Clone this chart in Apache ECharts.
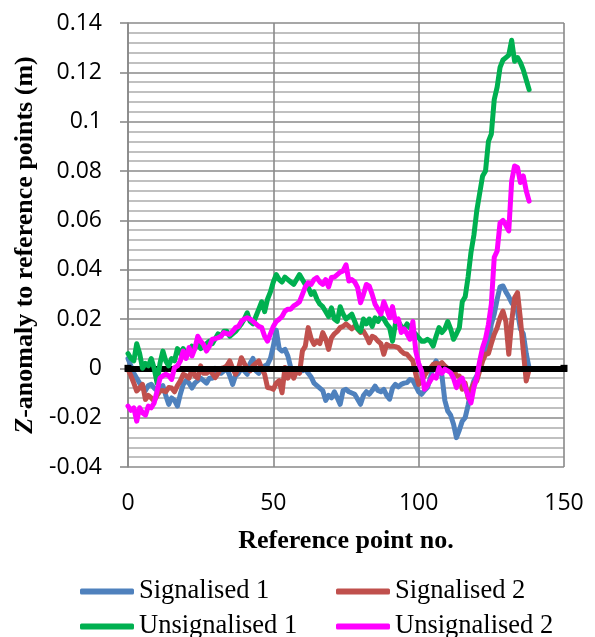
<!DOCTYPE html>
<html>
<head>
<meta charset="utf-8">
<script src="https://cdn.jsdelivr.net/npm/echarts@6/dist/echarts.min.js"></script>
<style>
  html, body { margin: 0; padding: 0; background: #ffffff; }
  #chart { width: 595px; height: 637px; }
</style>
</head>
<body>
<div id="chart"></div>
<script>
// Z-anomaly (m) of each reference point, four survey configurations
const signalised1 = [
  0.004, 0.001, -0.002, -0.004, -0.006, -0.008, -0.009, -0.007, -0.0065, -0.008,
  -0.009, -0.008, -0.007, -0.011, -0.0146, -0.012, -0.013, -0.0153, -0.0105, -0.0065,
  -0.005, -0.006, -0.008, -0.006, -0.005, -0.004, -0.005, -0.006, -0.004, -0.004,
  0.000, -0.001, -0.002, -0.001, 0.000, -0.003, -0.0065, -0.003, -0.002, 0.000,
  -0.001, -0.0024, 0.002, 0.004, -0.001, -0.002, 0.000, 0.001, 0.0016, 0.004,
  0.009, 0.0155, 0.008, 0.007, 0.0077, 0.005, 0.0003, -0.0005, -0.001, -0.0005,
  -0.001, -0.0003, -0.002, -0.0035, -0.006, -0.007, -0.008, -0.009, -0.013, -0.011,
  -0.012, -0.0095, -0.012, -0.0146, -0.009, -0.0085, -0.0095, -0.010, -0.0105, -0.0125,
  -0.0146, -0.011, -0.0095, -0.0105, -0.009, -0.0072, -0.009, -0.0095, -0.0085, -0.011,
  -0.0125, -0.008, -0.0065, -0.0075, -0.0065, -0.006, -0.0058, -0.0045, -0.005, -0.0072,
  -0.0095, -0.0105, -0.009, -0.0078, -0.004, 0.001, 0.003, 0.000, -0.003, -0.013,
  -0.0173, -0.019, -0.0227, -0.0281, -0.025, -0.0214, -0.020, -0.015, -0.009, -0.005,
  -0.003, 0.000, 0.004, 0.007, 0.010, 0.018, 0.022, 0.028, 0.033, 0.0334,
  0.031, 0.029, 0.0266, 0.025, 0.023, 0.016, 0.014, 0.006, 0.000
];
const signalised2 = [
  -0.0004, -0.003, -0.006, -0.0092, -0.008, -0.0065, -0.0126, -0.011, -0.012, -0.0132,
  -0.011, -0.0092, -0.009, -0.0095, -0.0078, -0.008, -0.0095, -0.007, -0.0051, -0.0024,
  -0.003, -0.004, -0.0004, -0.003, -0.004, 0.001, -0.002, -0.002, -0.001, -0.002,
  -0.0038, -0.002, 0.000, 0.0003, 0.001, 0.003, 0.000, -0.0024, 0.000, 0.0043,
  0.002, 0.000, -0.001, 0.001, 0.002, 0.003, 0.000, -0.0024, -0.0078, -0.008,
  -0.0085, -0.006, -0.005, -0.0099, 0.0003, -0.004, -0.0004, -0.004, -0.0011, -0.002,
  0.007, 0.009, 0.0165, 0.012, 0.0097, 0.011, 0.010, 0.0145, 0.012, 0.0077,
  0.0124, 0.014, 0.015, 0.0165, 0.017, 0.018, 0.017, 0.016, 0.0172, 0.016,
  0.0145, 0.015, 0.013, 0.0104, 0.013, 0.0124, 0.011, 0.010, 0.0057, 0.0097,
  0.009, 0.009, 0.0088, 0.0084, 0.007, 0.006, 0.0057, 0.0043, 0.003, -0.0024,
  -0.0065, -0.005, -0.003, -0.0011, 0.000, 0.0016, 0.002, 0.0015, 0.0023, 0.001,
  0.000, -0.001, -0.0004, -0.003, -0.0031, -0.0085, -0.006, -0.0119, -0.009, -0.006,
  -0.0051, -0.001, 0.003, 0.0057, 0.006, 0.010, 0.0138, 0.0165, 0.0205, 0.0232,
  0.019, 0.0057, 0.019, 0.0286, 0.0307, 0.020, 0.007, -0.0051, -0.0004
];
const unsignalised1 = [
  0.006, 0.004, 0.003, 0.010, 0.006, 0.000, 0.002, 0.001, 0.004, 0.000,
  -0.006, 0.002, 0.007, 0.003, 0.001, 0.004, 0.003, 0.008, 0.006, 0.008,
  0.005, 0.007, 0.009, 0.008, 0.010, 0.008, 0.009, 0.010, 0.011, 0.010,
  0.012, 0.014, 0.013, 0.015, 0.015, 0.013, 0.014, 0.015, 0.0165, 0.018,
  0.020, 0.0225, 0.019, 0.018, 0.021, 0.024, 0.027, 0.023, 0.028, 0.031,
  0.035, 0.038, 0.036, 0.035, 0.037, 0.036, 0.035, 0.034, 0.036, 0.038,
  0.036, 0.034, 0.033, 0.030, 0.031, 0.028, 0.026, 0.025, 0.023, 0.021,
  0.0245, 0.020, 0.019, 0.025, 0.022, 0.020, 0.021, 0.022, 0.019, 0.016,
  0.015, 0.020, 0.018, 0.020, 0.017, 0.0205, 0.019, 0.021, 0.020, 0.018,
  0.0165, 0.011, 0.018, 0.019, 0.017, 0.016, 0.018, 0.0165, 0.015, 0.0138,
  0.0124, 0.011, 0.011, 0.0118, 0.011, 0.009, 0.013, 0.0165, 0.0145, 0.016,
  0.019, 0.016, 0.0118, 0.014, 0.0165, 0.027, 0.029, 0.037, 0.047, 0.054,
  0.064, 0.071, 0.078, 0.080, 0.092, 0.095, 0.109, 0.114, 0.122, 0.125,
  0.126, 0.127, 0.133, 0.1245, 0.126, 0.124, 0.121, 0.117, 0.113
];
const unsignalised2 = [
  -0.0153, -0.017, -0.016, -0.0214, -0.016, -0.018, -0.019, -0.0153, -0.016, -0.014,
  -0.0092, -0.004, -0.003, -0.0024, -0.003, -0.0045, 0.0003, 0.001, 0.003, 0.007,
  0.004, 0.0084, 0.005, 0.008, 0.013, 0.011, 0.0097, 0.007, 0.009, 0.0118,
  0.012, 0.0124, 0.013, 0.0145, 0.014, 0.0138, 0.015, 0.0165, 0.017, 0.019,
  0.020, 0.0205, 0.020, 0.019, 0.018, 0.017, 0.0165, 0.013, 0.011, 0.014,
  0.017, 0.019, 0.0199, 0.021, 0.0232, 0.024, 0.024, 0.0253, 0.026, 0.027,
  0.030, 0.033, 0.0347, 0.034, 0.036, 0.0368, 0.035, 0.034, 0.036, 0.033,
  0.0368, 0.037, 0.038, 0.039, 0.0395, 0.042, 0.0354, 0.036, 0.035, 0.0327,
  0.0266, 0.030, 0.034, 0.0333, 0.030, 0.026, 0.024, 0.022, 0.027, 0.024,
  0.0205, 0.025, 0.019, 0.020, 0.0145, 0.016, 0.014, 0.0118, 0.019, 0.007,
  0.002, -0.001, -0.0085, -0.007, -0.005, -0.003, -0.004, 0.0003, -0.002, -0.0003,
  -0.001, -0.0018, -0.004, -0.0078, -0.005, -0.004, -0.0078, -0.011, -0.014, -0.0078,
  -0.0038, 0.003, 0.0084, 0.012, 0.0178, 0.026, 0.045, 0.0476, 0.059, 0.060,
  0.058, 0.0557, 0.076, 0.082, 0.0814, 0.0753, 0.078, 0.072, 0.0678
];

const seriesNames = ['Signalised 1', 'Signalised 2', 'Unsignalised 1', 'Unsignalised 2'];
const seriesColors = ['#4F81BD', '#C0504D', '#00B050', '#FF00FF'];
const seriesValues = [signalised1, signalised2, unsignalised1, unsignalised2];

// axis tick values
const xTicks = [0, 50, 100, 150];
const yTicks = [-0.04, -0.02, 0, 0.02, 0.04, 0.06, 0.08, 0.1, 0.12, 0.14];

const numFont = '"Open Sans", sans-serif';
const serifFont = '"Liberation Serif", "Times New Roman", serif';
const majorGrid = '#8a8a8a';
const minorGrid = '#c0c0c0';

// each value belongs to reference point number = its index
const toPoints = vals => vals.map((v, i) => [i, v]);

const lineSeries = seriesNames.map((name, k) => ({
  name: name,
  type: 'line',
  data: toPoints(seriesValues[k]),
  showSymbol: false,
  symbol: 'none',
  smooth: false,
  z: 3 + k,
  color: seriesColors[k],
  lineStyle: { color: seriesColors[k], width: 5, cap: 'round', join: 'round' },
  emphasis: { disabled: true },
  animation: false
}));

// heavy zero line drawn beneath the data lines
const zeroLine = {
  name: 'zero',
  type: 'line',
  data: [],
  z: 2,
  silent: true,
  animation: false,
  markLine: {
    silent: true,
    animation: false,
    symbol: ['rect', 'rect'],
    symbolSize: [7, 7],
    label: { show: false },
    lineStyle: { color: '#000000', width: 6, type: 'solid', cap: 'square' },
    data: [{ yAxis: 0 }]
  }
};

const chart = echarts.init(document.getElementById('chart'), null, { renderer: 'canvas' });
chart.setOption({
  backgroundColor: '#ffffff',
  animation: false,
  grid: { left: 128, right: 31, top: 23, bottom: 170, containLabel: false },
  xAxis: {
    type: 'value',
    min: xTicks[0],
    max: xTicks[xTicks.length - 1],
    interval: xTicks[1] - xTicks[0],
    axisLine: { show: false },
    axisTick: { show: false },
    axisLabel: { color: '#000000', fontFamily: numFont, fontSize: 23, margin: 25 },
    splitLine: { show: true, lineStyle: { color: majorGrid, width: 1.6 } },
    name: 'Reference point no.',
    nameLocation: 'middle',
    nameGap: 61,
    nameTextStyle: { color: '#000000', fontFamily: serifFont, fontSize: 26, fontWeight: 'bold' }
  },
  yAxis: {
    type: 'value',
    min: yTicks[0],
    max: yTicks[yTicks.length - 1],
    interval: yTicks[1] - yTicks[0],
    axisLine: { show: true, lineStyle: { color: majorGrid, width: 1.6 } },
    axisTick: { show: true, length: 8, lineStyle: { color: majorGrid, width: 1.6 } },
    axisLabel: {
      color: '#000000', fontFamily: numFont, fontSize: 23, margin: 26,
      formatter: v => String(parseFloat(v.toFixed(2)))
    },
    splitLine: { show: true, lineStyle: { color: majorGrid, width: 1.6 } },
    minorTick: { show: false, splitNumber: 5 },
    minorSplitLine: { show: true, lineStyle: { color: minorGrid, width: 2 } },
    name: '{it|Z}-anomaly to reference points (m)',
    nameLocation: 'middle',
    nameGap: 85,
    nameRotate: 90,
    nameTextStyle: {
      color: '#000000', fontFamily: serifFont, fontSize: 26, fontWeight: 'bold',
      rich: {
        it: { fontFamily: serifFont, fontSize: 26, fontWeight: 'bold', fontStyle: 'italic', color: '#000000' }
      }
    }
  },
  legend: {
    data: seriesNames,
    left: 80,
    top: 574,
    width: 530,
    padding: 0,
    orient: 'horizontal',
    itemGap: 0,
    itemWidth: 54,
    itemHeight: 6,
    icon: 'roundRect',
    selectedMode: false,
    textStyle: {
      color: '#000000', fontFamily: serifFont, fontSize: 26.5,
      width: 197, lineHeight: 35, overflow: 'none'
    }
  },
  series: [zeroLine].concat(lineSeries)
});
</script>
</body>
</html>
